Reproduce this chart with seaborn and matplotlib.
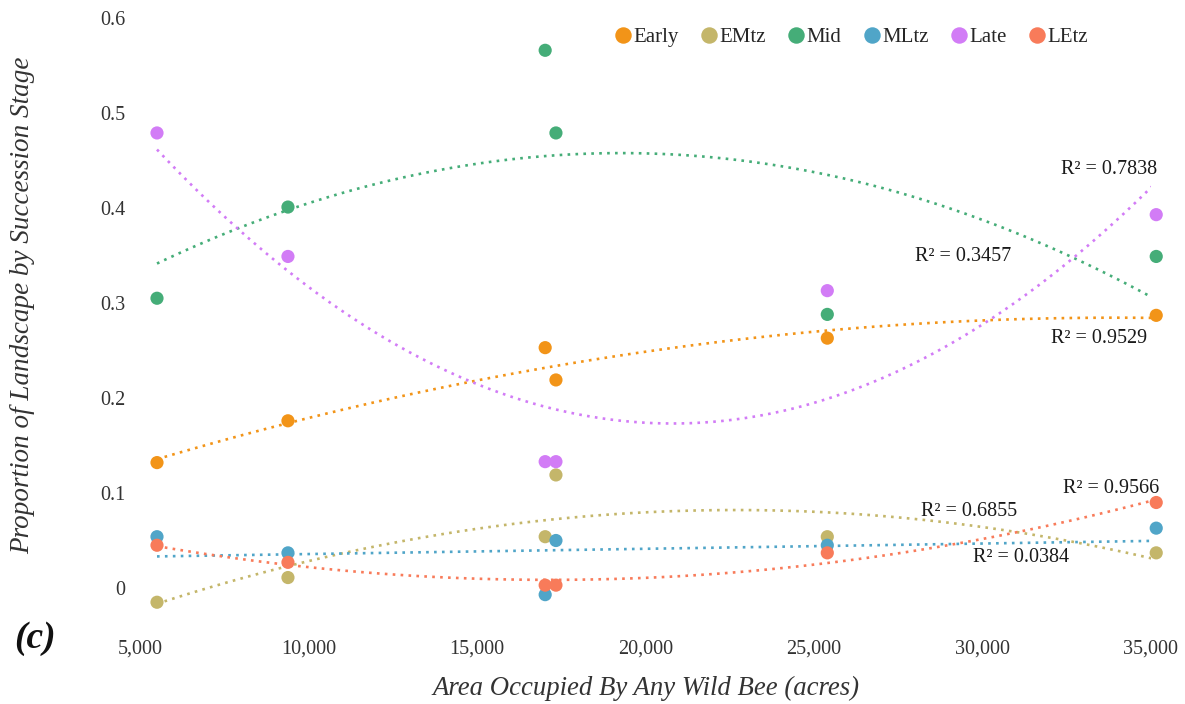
import numpy as np
import pandas as pd
import matplotlib
matplotlib.use("Agg")
import matplotlib.pyplot as plt
import seaborn as sns

# Area occupied by any wild bee (acres) for each landscape
area = [5490, 9380, 17020, 17340, 25400, 35170]

# Proportion of landscape in each succession stage
early = [0.132, 0.176, 0.253, 0.219, 0.263, 0.287]
emtz = [-0.015, 0.011, 0.054, 0.119, 0.054, 0.037]
mid = [0.305, 0.401, 0.566, 0.479, 0.288, 0.349]
mltz = [0.054, 0.037, -0.007, 0.050, 0.045, 0.063]
late = [0.479, 0.349, 0.133, 0.133, 0.313, 0.393]
letz = [0.045, 0.027, 0.003, 0.003, 0.037, 0.090]

stages = ["Early", "EMtz", "Mid", "MLtz", "Late", "LEtz"]
colors = ["#F29418", "#C4B66A", "#45AD78", "#50A5C8", "#D27CF6", "#F87B5A"]
# polynomial order of each stage's trendline
fit_order = [2, 2, 2, 1, 2, 2]

# Trendline fit quality for each stage
r2_labels = ["R² = 0.9529", "R² = 0.6855", "R² = 0.3457",
             "R² = 0.0384", "R² = 0.7838", "R² = 0.9566"]
# label anchor (x, y, horizontal alignment)
r2_pos = [(34900, 0.263, "right"), (28190, 0.081, "left"),
          (28010, 0.349, "left"), (29730, 0.032, "left"),
          (35190, 0.441, "right"), (35260, 0.105, "right")]

series = [early, emtz, mid, mltz, late, letz]
df = pd.DataFrame({
    "area": np.tile(area, len(stages)),
    "proportion": np.concatenate(series),
    "stage": np.repeat(stages, len(area)),
})

sns.set_theme(style="white")
plt.rcParams["font.family"] = ["Liberation Serif", "DejaVu Serif"]

fig = plt.figure(figsize=(11.85, 7.04), dpi=100)
ax = fig.add_axes([140.5 / 1185, 1 - 635.5 / 704,
                   (1150.5 - 140.5) / 1185, (635.5 - 18) / 704])

palette = dict(zip(stages, colors))

# Dotted polynomial trendlines
for stage, order in zip(stages, fit_order):
    sub = df[df["stage"] == stage]
    sns.regplot(data=sub, x="area", y="proportion", order=order, ci=None,
                scatter=False, truncate=True, ax=ax,
                line_kws=dict(color=palette[stage], lw=1.9,
                              linestyle=(0, (1, 2)), zorder=2))

sns.scatterplot(data=df, x="area", y="proportion", hue="stage",
                palette=palette, hue_order=stages, s=90, linewidth=0,
                ax=ax, zorder=3, clip_on=False)

for txt, (x, y, ha) in zip(r2_labels, r2_pos):
    ax.text(x, y, txt, ha=ha, va="center", fontsize=14.5, color="#1a1a1a")

ax.set_xlim(5000, 35000)
ax.set_ylim(-0.05, 0.6)
ax.set_xticks(np.arange(5000, 35001, 5000))
ax.set_xticklabels([f"{v:,}" for v in range(5000, 35001, 5000)])
ax.set_yticks([0, 0.1, 0.2, 0.3, 0.4, 0.5, 0.6])
ax.set_yticklabels(["0", "0.1", "0.2", "0.3", "0.4", "0.5", "0.6"])
ax.tick_params(axis="both", length=0, labelsize=14.5, colors="#333333")
ax.tick_params(axis="y", pad=11)
ax.tick_params(axis="x", pad=3)
for sp in ax.spines.values():
    sp.set_visible(False)
ax.grid(False)

ax.set_xlabel("Area Occupied By Any Wild Bee (acres)", fontsize=19.3,
              style="italic", color="#333333")
ax.xaxis.set_label_coords(0.5, -0.085)
ax.xaxis.label.set_verticalalignment("center")
ax.set_ylabel("Proportion of Landscape by Succession Stage", fontsize=19.5,
              style="italic", color="#333333")
ax.yaxis.set_label_coords(-0.117, 0.534)
ax.yaxis.label.set_verticalalignment("center")

handles, labels = ax.get_legend_handles_labels()
ax.legend(handles, labels, ncol=6, loc="center",
          bbox_to_anchor=(0.704, 0.969), frameon=False, fontsize=15,
          handlelength=0.8, handletextpad=0.1, columnspacing=1.05,
          markerscale=1.25, borderaxespad=0)

fig.text(35 / 1185, 1 - 639 / 704, "(c)", fontsize=27, fontweight="bold",
         style="italic", ha="center", va="center", color="#111111")

fig.savefig("out.png", dpi=100)
